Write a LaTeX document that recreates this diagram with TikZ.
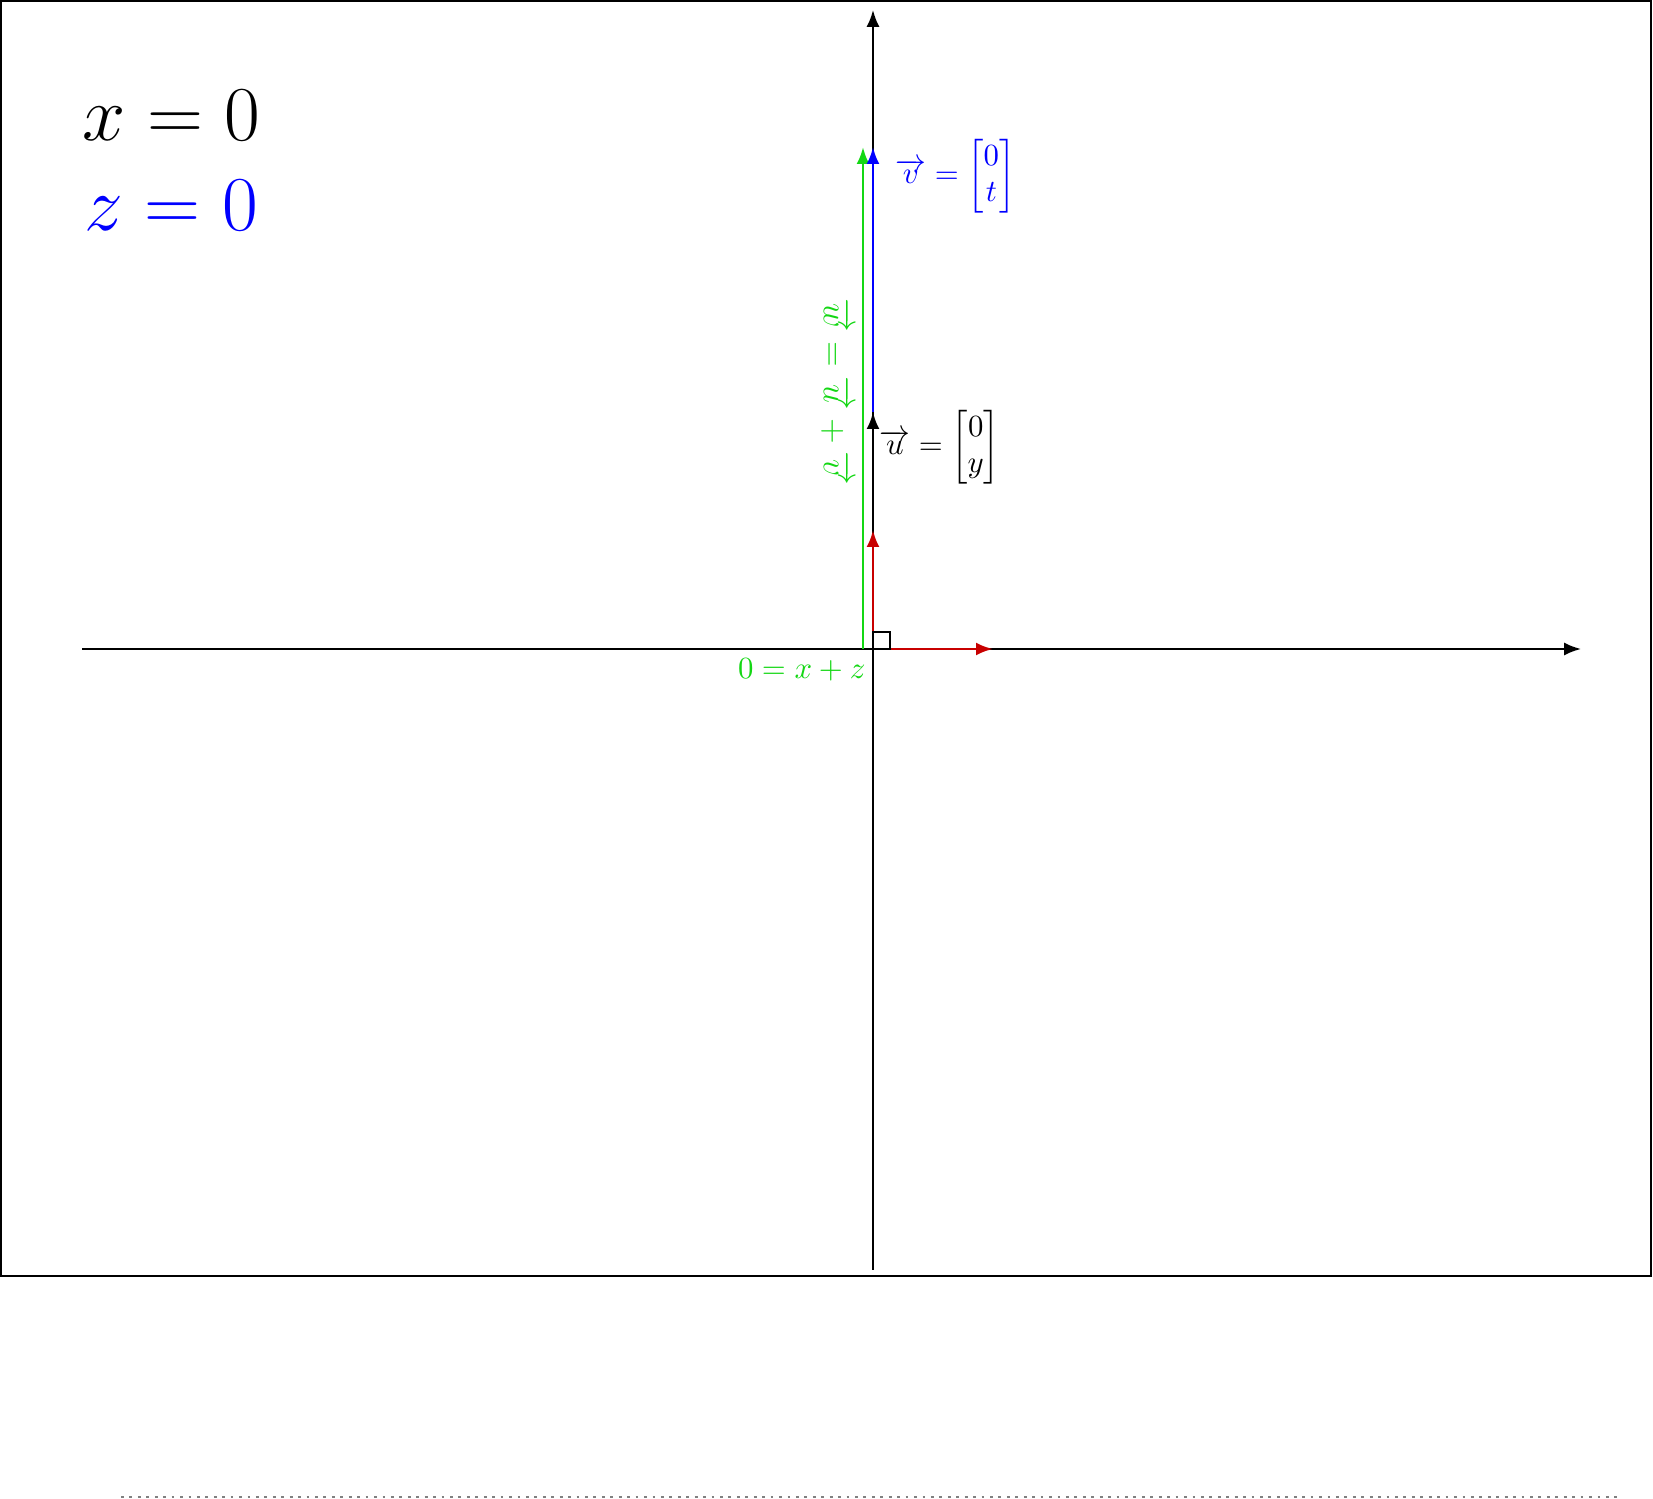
\documentclass[tikz,border=0pt]{standalone}
\usepackage{amsmath}
\usetikzlibrary{arrows.meta}
\definecolor{vecgreen}{RGB}{20,215,20}
\definecolor{vecred}{RGB}{200,0,0}

\begin{document}
\begin{tikzpicture}
[x=0.0125cm,y=-0.0125cm,
  axisDecorate/.style={-{Latex[length=6pt,width=4.6pt]},line width=0.7pt},
  vecDecorate/.style={-{Latex[length=6pt,width=4.6pt]},line width=1pt},
  labelDecorate/.style={inner sep=0pt,font=\fontsize{10.5}{13}\selectfont},
  planeDecorate/.style={inner sep=0pt,anchor=base west,scale=1.11,font=\fontsize{24.88}{30}\selectfont}]
\useasboundingbox (0,0) rectangle (1653,1499);
\draw[line width=1pt] (1,1) rectangle (1651,1276);
\draw[gray,dotted,line width=1pt] (121,1497) -- (1618,1497);
%% points
\foreach \pointname/\x/\y in {O/873/649, xl/82/649, xr/1581/649, yb/873/1270, yt/873/10,
  a/993/649, b/873/530, u/873/412, v/873/147, g0/863/649, g1/863/147}
{
  \coordinate (\pointname) at (\x,\y);
}
%% axes
\draw[axisDecorate] (xl) -- (xr);
\draw[axisDecorate] (yb) -- (yt);
%% vectors
\foreach \startpoint/\endpoint/\col in {g0/g1/vecgreen, u/v/blue, O/u/black, O/b/vecred, O/a/vecred}
{
  \draw[vecDecorate,\col] (\startpoint) -- (\endpoint);
}
\draw[line width=0.8pt] (O) rectangle ++(17,-17);
%% labels
\node (planex) [planeDecorate] at (82,141) {$x=0$};
\node (planez) [planeDecorate,blue] at (84,231) {$z=0$};
\node (vlabel) [labelDecorate,anchor=west,blue] at (895,176) {$\overrightarrow{v}=\begin{bmatrix}0\\t\end{bmatrix}$};
\node (ulabel) [labelDecorate,anchor=west] at (879,447) {$\overrightarrow{u}=\begin{bmatrix}0\\y\end{bmatrix}$};
\node (wlabel) [labelDecorate,vecgreen,rotate=-90,font=\fontsize{12}{15}\selectfont] at (836,392) {$\overrightarrow{w}=\overrightarrow{u}+\overrightarrow{v}$};
\node (glabel) [labelDecorate,anchor=east,vecgreen] at (866,670) {$0=x+z$};
\end{tikzpicture}
\end{document}
